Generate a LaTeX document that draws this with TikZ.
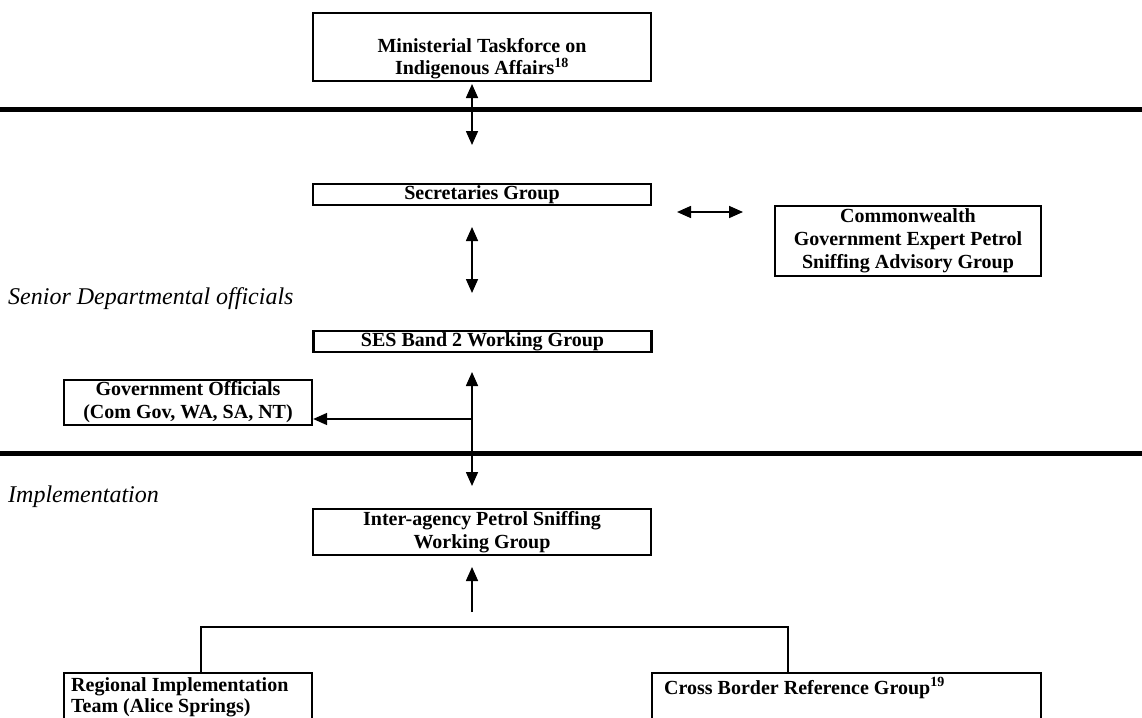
\documentclass[tikz,border=0pt]{standalone}
\usepackage{fontspec}
\setmainfont{Liberation Serif}
\usetikzlibrary{arrows.meta}
\tikzset{
  box/.style={draw, line width=2.3pt, inner sep=0pt, align=center,
    font=\fontsize{20}{23}\selectfont\bfseries},
  txt/.style={inner sep=0pt, align=center, font=\fontsize{20}{23}\selectfont\bfseries},
  ltxt/.style={inner sep=0pt, align=left, font=\fontsize{20}{21}\selectfont\bfseries},
  lab/.style={inner sep=0pt, anchor=base west, font=\fontsize{24}{28}\selectfont\itshape},
  both/.style={line width=1.6pt, {Triangle[length=14pt,width=12pt]}-{Triangle[length=14pt,width=12pt]}},
  one/.style={line width=1.6pt, -{Triangle[length=14pt,width=12pt]}},
  rule/.style={line width=5pt},
  conn/.style={line width=2pt}
}
\begin{document}
\begin{tikzpicture}[x=1pt,y=-1pt]
\useasboundingbox (0,0) rectangle (1142,717);
% rules
\coordinate (r1a) at (0,109); \coordinate (r1b) at (1142,109);
\coordinate (r2a) at (0,453); \coordinate (r2b) at (1142,453);
\draw[rule] (r1a) -- (r1b);
\draw[rule] (r2a) -- (r2b);
% boxes
\node[box, minimum width=338pt, minimum height=68pt] (mtia) at (482,47) {};
\node[txt, font=\fontsize{20}{22}\selectfont\bfseries] (mtiatext) at (482,59) {Ministerial Taskforce on\\Indigenous Affairs\textsuperscript{18}};
\node[box, minimum width=338pt, minimum height=21pt] (sec) at (482,194.5) {Secretaries Group};
\node[box, minimum width=266pt, minimum height=70pt] (cw) at (908,241) {Commonwealth\\Government Expert Petrol\\Sniffing Advisory Group};
\node[box, minimum width=338pt, minimum height=21pt] (ses) at (482.5,341.5) {SES Band 2 Working Group};
\node[box, minimum width=248pt, minimum height=45pt] (gov) at (188,402.5) {Government Officials\\(Com Gov, WA, SA, NT)};
\node[box, minimum width=338pt, minimum height=46pt] (iapsw) at (482,532) {Inter-agency Petrol Sniffing\\Working Group};
% labels
\node[lab] (senior) at (8,304) {Senior Departmental officials};
\node[lab] (impl) at (8,502) {Implementation};
% bottom boxes (cut by page edge)
\begin{scope}
\clip (0,0) rectangle (1142,717);
\node[box, minimum width=248pt, minimum height=100pt] (rit) at (188,723) {};
\node[box, minimum width=389pt, minimum height=100pt] (cbrg) at (846.5,723) {};
\end{scope}
\node[ltxt, anchor=north west] (rittext) at (71,677) {Regional Implementation\\Team (Alice Springs)};
\node[ltxt, anchor=north west] (cbrgtext) at (664,677) {Cross Border Reference Group\textsuperscript{19}};
% arrows
\coordinate (a1t) at (472,84); \coordinate (a1b) at (472,145);
\draw[both] (a1t) -- (a1b);
\coordinate (a2l) at (677,212); \coordinate (a2r) at (743,212);
\draw[both] (a2l) -- (a2r);
\coordinate (a3t) at (472,227); \coordinate (a3b) at (472,293);
\draw[both] (a3t) -- (a3b);
\coordinate (a4t) at (472,372); \coordinate (a4b) at (472,486);
\draw[both] (a4t) -- (a4b);
\coordinate (br) at (472,419);
\draw[one] (br) -- (gov.east |- br);
\coordinate (a5t) at (472,567); \coordinate (a5b) at (472,612);
\draw[one] (a5b) -- (a5t);
% tree connector
\coordinate (cl) at (201,627); \coordinate (cr) at (788,627);
\draw[conn] (rit.north -| cl) -- (cl) -- (cr) -- (cbrg.north -| cr);
\end{tikzpicture}
\end{document}
